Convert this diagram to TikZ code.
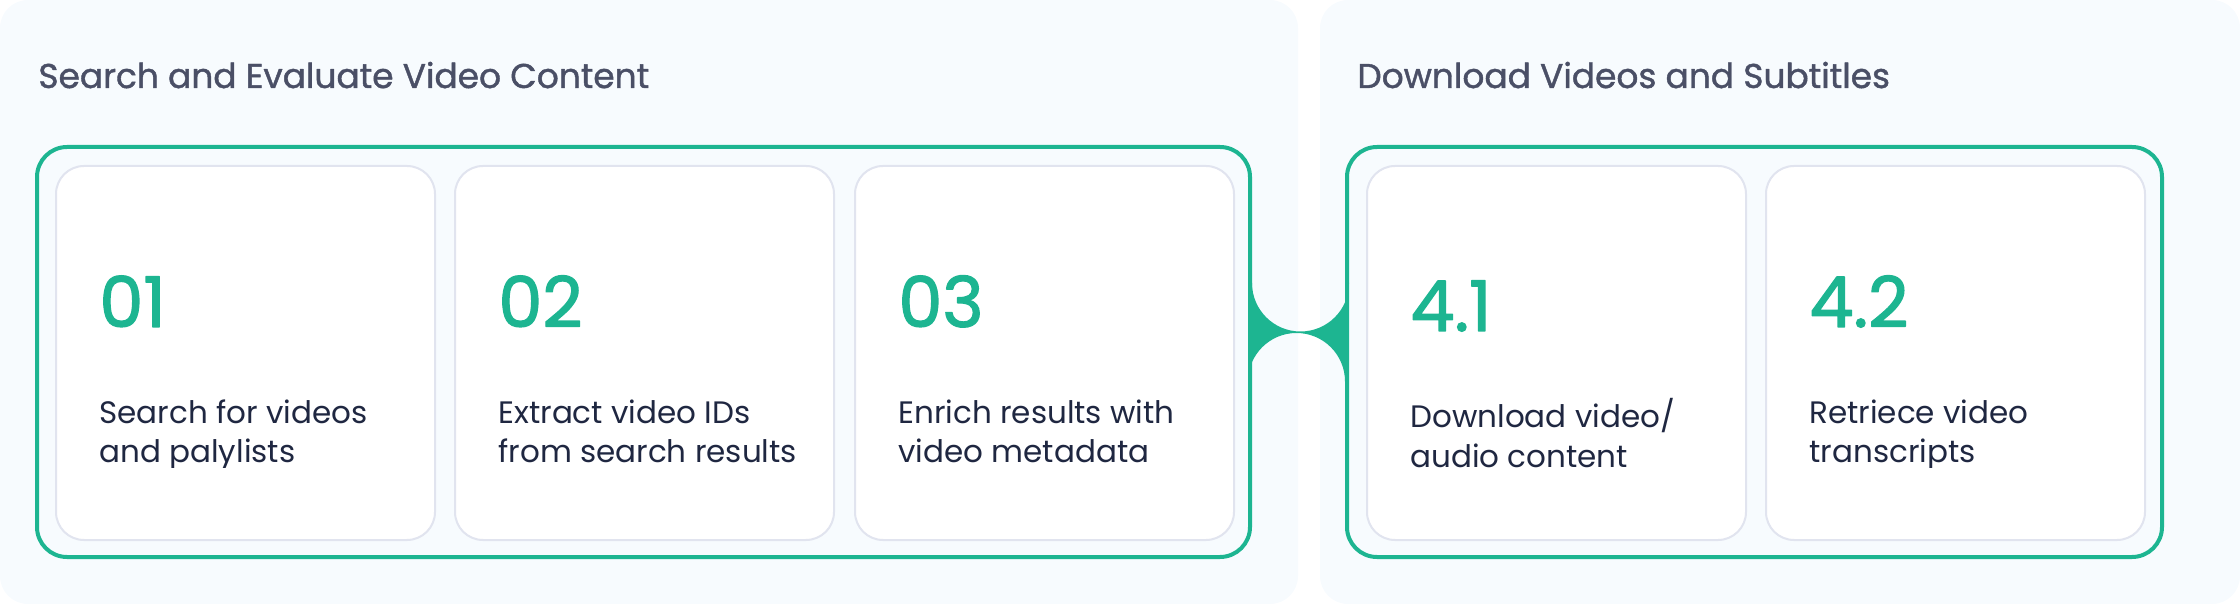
\documentclass[tikz,border=0pt]{standalone}
\usepackage{fontspec}
\setmainfont{Poppins}
\newfontfamily\popmed{Poppins}[FakeBold=1.2]
\newfontfamily\popnum{Poppins}[FakeBold=1.8]
\usetikzlibrary{positioning,calc}
\definecolor{panelbg}{HTML}{F7FBFE}
\definecolor{mint}{HTML}{1DB591}
\definecolor{cardline}{HTML}{E1E4EF}
\definecolor{ink}{HTML}{1F2741}
\definecolor{headink}{HTML}{4A4F66}
\def\u{0.5pt}
\tikzset{
  panel/.style={fill=panelbg, rounded corners=14pt},
  group/.style={draw=mint, line width=2pt, fill=panelbg, rounded corners=15pt,
    minimum height=410*\u, inner sep=0pt},
  card/.style={draw=cardline, line width=1pt, fill=white, rounded corners=14pt,
    minimum width=379*\u, minimum height=374*\u, anchor=north west, inner sep=0pt},
  num/.style={text=mint, font=\popnum\fontsize{35}{40}\selectfont, anchor=base west, inner sep=0pt},
  body/.style={text=ink, font=\fontsize{15.5}{20}\selectfont, anchor=base west,
    align=left, inner sep=0pt},
  head/.style={text=headink, font=\popmed\fontsize{17.2}{20}\selectfont, anchor=base west, inner sep=0pt}
}
\begin{document}
\begin{tikzpicture}[x=\u, y=-\u, line join=round, line cap=round]
\useasboundingbox (0,0) rectangle (2240,604);
% background panels
\fill[panel] (0,0) rectangle (1298,604);
\fill[panel] (1320,0) rectangle (2240,604);
\node[head] (hsearch) at (38,88) {Search and Evaluate Video Content};
\node[head] (hdown) at (1357,88) {Download Videos and Subtitles};
% green groups
\node[group, minimum width=1213*\u] (gsearch) at (643.5,352) {};
\node[group, minimum width=815*\u] (gdown) at (1754.5,352) {};
% joint between groups
\path (gsearch.east) ++(0,-69) coordinate (jt) (gdown.west) ++(0,29.5) coordinate (jb);
\fill[mint] (jt) arc[start angle=180, end angle=0, radius=48.5]
  -- (jb) arc[start angle=0, end angle=-180, radius=48.5] -- cycle;
% cards
\foreach \n/\x/\dy/\num/\txt in {
  c1/55/0/01/{Search for videos\\and palylists},
  c2/454/0/02/{Extract video IDs\\from search results},
  c3/854/0/03/{Enrich results with\\video metadata},
  c4/1366/4/4.1/{Download video/\\audio content},
  c5/1765/0/4.2/{Retriece video\\transcripts}}
{
  \node[card] (\n) at (\x,165) {};
  \begin{scope}
    \clip (\x,165) rectangle ++(379,302);
    \node[num] (\n num) at (\x+44,327+\dy) {\num};
    \node[body] (\n txt) at (\x+44,463+\dy) {\txt};
  \end{scope}
}
\end{tikzpicture}
\end{document}
